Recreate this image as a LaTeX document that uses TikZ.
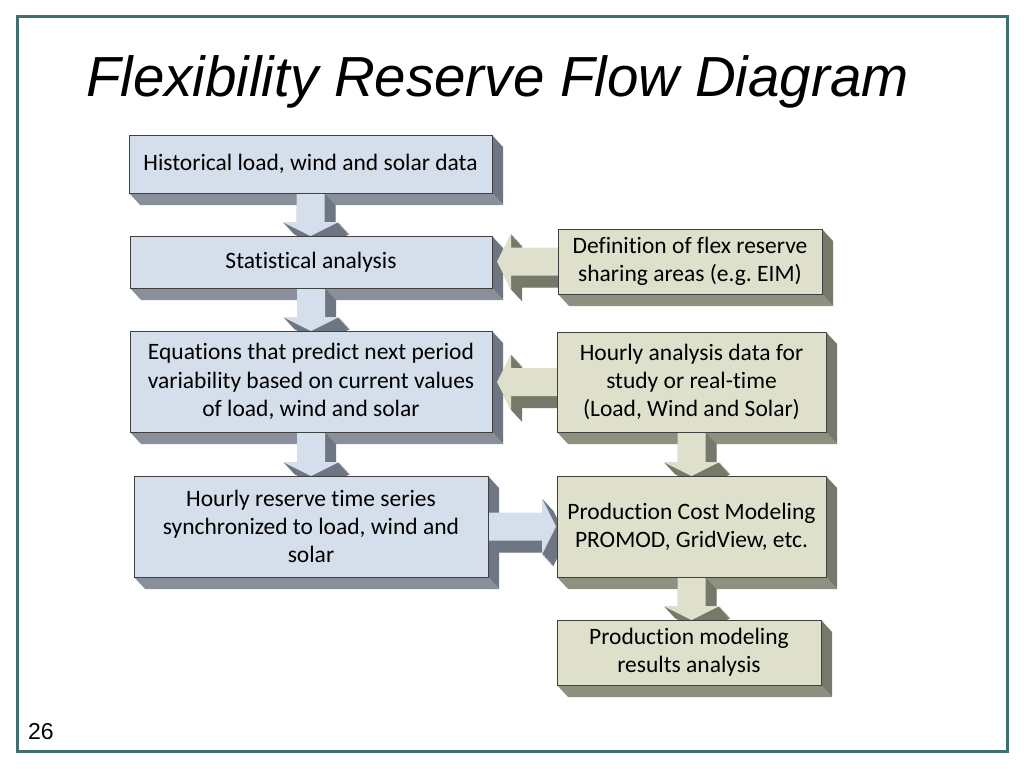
\documentclass[tikz,border=0pt]{standalone}
\usepackage{fontspec}
\setmainfont{Carlito}[Ligatures={NoCommon}]
\newfontfamily\arialfont{Liberation Sans}
\usetikzlibrary{calc}
\frenchspacing

\definecolor{bluefront}{HTML}{D5DEEB}
\definecolor{blueright}{HTML}{6F7683}
\definecolor{bluebottom}{HTML}{8A909B}
\definecolor{olivefront}{HTML}{DFE0CC}
\definecolor{oliveright}{HTML}{76786A}
\definecolor{olivebottom}{HTML}{8E9080}
\definecolor{slideframe}{HTML}{3F6E6E}

\pgfdeclarelayer{back}
\pgfdeclarelayer{mid}
\pgfsetlayers{back,mid,main}

\newcommand\arrowfill[3]{%
  \fill[#3] ($(#1)!14pt!90:(#2)$)
    -- ($($(#2)!14pt!(#1)$)!14pt!90:(#2)$)
    -- ($($(#2)!14pt!(#1)$)!28pt!90:(#2)$)
    -- (#2)
    -- ($($(#2)!14pt!(#1)$)!28pt!-90:(#2)$)
    -- ($($(#2)!14pt!(#1)$)!14pt!-90:(#2)$)
    -- ($(#1)!14pt!-90:(#2)$) -- cycle;}

\newcommand\flowarrow[4]{%
  \begin{pgfonlayer}{mid}
    \foreach \t in {1,...,24}{%
      \begin{scope}[transform canvas={shift={({0.46pt*\t},{-0.5pt*\t})}}]
        \arrowfill{#1}{#2}{#4}
      \end{scope}}
    \arrowfill{#1}{#2}{#3}
  \end{pgfonlayer}}

\newcommand\boxfaces[3]{%
  \begin{pgfonlayer}{back}
    \fill[#2] (#1.north east) -- ($(#1.north east)+(11,12)$) -- ($(#1.south east)+(11,12)$) -- (#1.south east) -- cycle;
    \fill[#3] (#1.south west) -- (#1.south east) -- ($(#1.south east)+(11,12)$) -- ($(#1.south west)+(11,12)$) -- cycle;
  \end{pgfonlayer}}

\begin{document}
\begin{tikzpicture}[x=1pt, y=-1pt,
    box/.style = {draw=black!75, line width=0.5pt, rectangle, inner sep=0pt, outer sep=0pt, align=center, font=\fontsize{23.5}{28.2}\selectfont},
    bluebox/.style = {box, fill=bluefront},
    olivebox/.style = {box, fill=olivefront}]
    \useasboundingbox (0,0) rectangle (1024,768);
    \begin{pgfonlayer}{back}
        \fill[white] (0,0) rectangle (1024,768);
    \end{pgfonlayer}
    \draw[slideframe, line width=3pt] (17,17) rectangle (1007,751);

    \node[anchor=base west, inner sep=0pt, font=\arialfont\itshape\fontsize{56.5}{60}\selectfont] (title) at (86,96) {Flexibility Reserve Flow Diagram};
    \node[anchor=base west, inner sep=0pt, font=\arialfont\fontsize{23}{26}\selectfont] (page) at (28,739) {26};

    \node[bluebox, minimum width=363, minimum height=58] (hist) at (310.5,164) {Historical load, wind and solar data};
    \node[bluebox, minimum width=362, minimum height=52] (stat) at (311,262) {Statistical analysis};
    \node[bluebox, minimum width=362, minimum height=101] (equ) at (311,381.5) {Equations that predict next period\\variability based on current values\\of load, wind and solar};
    \node[bluebox, minimum width=354, minimum height=101] (hres) at (311,526.5) {Hourly reserve time series\\synchronized to load, wind and\\solar};
    \node[olivebox, minimum width=264, minimum height=65] (defn) at (690,261.5) {Definition of flex reserve\\sharing areas (e.g. EIM)};
    \node[olivebox, minimum width=269, minimum height=100] (hana) at (691.5,382) {Hourly analysis data for\\study or real-time\\(Load, Wind and Solar)};
    \node[olivebox, minimum width=269, minimum height=101] (pcm) at (691.5,526.5) {Production Cost Modeling\\PROMOD, GridView, etc.};
    \node[olivebox, minimum width=264, minimum height=65] (pres) at (689,652.5) {Production modeling\\results analysis};

    \foreach \n in {hist,stat,equ,hres} {\boxfaces{\n}{blueright}{bluebottom}}
    \foreach \n in {defn,hana,pcm,pres} {\boxfaces{\n}{oliveright}{olivebottom}}

    \coordinate (stat-in) at (hist.south |- stat.north);
    \coordinate (equ-in) at (stat.south |- equ.north);
    \coordinate (hres-in) at (equ.south |- hres.north);
    \coordinate (pcm-left) at ($(hres.east -| pcm.west)+(-1,0)$);
    \coordinate (stat-right) at ($(defn.west -| stat.east)+(5,0)$);
    \coordinate (equ-right) at ($(hana.west -| equ.east)+(5,0)$);
    \coordinate (pcm-in) at (hana.south |- pcm.north);
    \coordinate (pres-in) at (pcm.south |- pres.north);

    \flowarrow{hist.south}{stat-in}{bluefront}{blueright}
    \flowarrow{stat.south}{equ-in}{bluefront}{blueright}
    \flowarrow{equ.south}{hres-in}{bluefront}{blueright}
    \flowarrow{hres.east}{pcm-left}{bluefront}{blueright}
    \flowarrow{defn.west}{stat-right}{olivefront}{oliveright}
    \flowarrow{hana.west}{equ-right}{olivefront}{oliveright}
    \flowarrow{hana.south}{pcm-in}{olivefront}{oliveright}
    \flowarrow{pcm.south}{pres-in}{olivefront}{oliveright}
\end{tikzpicture}
\end{document}
